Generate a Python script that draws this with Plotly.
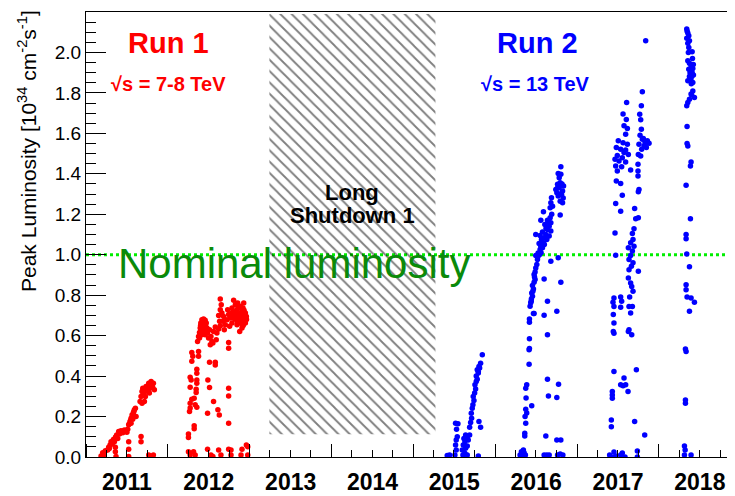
import datetime as dt
import plotly.graph_objects as go

FONT = "Liberation Sans, Arial, Helvetica, sans-serif"

# ---------------- data (decimal year, peak luminosity in 1e34 cm^-2 s^-1) ----------------
Y2011_T = [2011.184, 2011.204, 2011.224, 2011.237, 2011.265, 2011.277, 2011.294, 2011.306, 2011.318, 2011.335,
           2011.347, 2011.359, 2011.375, 2011.388, 2011.400, 2011.408, 2011.428, 2011.449, 2011.469, 2011.490,
           2011.510, 2011.522, 2011.539, 2011.551, 2011.563, 2011.579, 2011.592, 2011.604, 2011.551, 2011.571,
           2011.661, 2011.673, 2011.685, 2011.694, 2011.702, 2011.714, 2011.726, 2011.734, 2011.755, 2011.767,
           2011.783, 2011.796, 2011.808, 2011.824, 2011.836, 2011.685, 2011.714, 2011.775,
           2011.359, 2011.359, 2011.367, 2011.522, 2011.522, 2011.522, 2011.673, 2011.673, 2011.612, 2011.767,
           2011.796, 2011.824,
           2011.285, 2011.325, 2011.365, 2011.415, 2011.440, 2011.480, 2011.500, 2011.530, 2011.545, 2011.585,
           2011.700, 2011.745, 2011.790, 2011.815]
Y2011_L = [0.005, 0.021, 0.010, 0.031, 0.035, 0.048, 0.059, 0.076, 0.064, 0.087,
           0.076, 0.097, 0.109, 0.092, 0.126, 0.114, 0.130, 0.120, 0.134, 0.126,
           0.137, 0.159, 0.175, 0.192, 0.208, 0.219, 0.233, 0.241, 0.167, 0.187,
           0.274, 0.299, 0.324, 0.340, 0.316, 0.332, 0.299, 0.349, 0.324, 0.365,
           0.340, 0.373, 0.357, 0.365, 0.332, 0.266, 0.274, 0.316,
           0.048, 0.026, 0.002, 0.076, 0.038, 0.002, 0.101, 0.076, 0.200, 0.010,
           0.002, 0.010,
           0.042, 0.070, 0.100, 0.118, 0.125, 0.130, 0.122, 0.165, 0.180, 0.225,
           0.330, 0.340, 0.350, 0.345]

Y2012_T = [2012.252, 2012.273, 2012.314, 2012.334, 2012.252, 2012.252, 2012.322, 2012.322,
           2012.293, 2012.305, 2012.375, 2012.375, 2012.293, 2012.354, 2012.354, 2012.273, 2012.285, 2012.354,
           2012.354, 2012.273, 2012.346, 2012.346, 2012.293, 2012.322, 2012.273, 2012.334, 2012.273, 2012.354,
           2012.265,
           2012.363, 2012.375, 2012.387, 2012.395, 2012.403, 2012.416, 2012.436, 2012.456, 2012.428, 2012.448,
           2012.469, 2012.407, 2012.436, 2012.477, 2012.387, 2012.416, 2012.456,
           2012.485, 2012.509, 2012.497, 2012.526, 2012.538, 2012.558, 2012.550, 2012.579, 2012.591, 2012.599,
           2012.620, 2012.640, 2012.632, 2012.518,
           2012.640, 2012.652, 2012.640, 2012.660, 2012.681, 2012.620, 2012.673, 2012.701, 2012.689, 2012.722,
           2012.730, 2012.742,
           2012.803, 2012.824, 2012.783, 2012.844, 2012.885, 2012.926, 2012.905, 2012.946, 2012.864, 2012.803,
           2012.762, 2012.836, 2012.893, 2012.934, 2012.783, 2012.844, 2012.905, 2012.877, 2012.754, 2012.958,
           2012.917, 2012.795, 2012.852, 2012.824, 2012.946,
           2012.870, 2012.900, 2012.860, 2012.815, 2012.875, 2012.915, 2012.940, 2012.810, 2012.895, 2012.850,
           2012.930, 2012.770, 2012.880, 2012.960, 2012.920,
           2012.420, 2012.440, 2012.460, 2012.400, 2012.430, 2012.470,
           2012.509, 2012.579, 2012.579, 2012.489, 2012.509, 2012.558, 2012.485, 2012.611, 2012.628, 2012.742,
           2012.742, 2012.742, 2012.742, 2012.742,
           2012.485, 2012.526, 2012.550, 2012.620, 2012.648, 2012.742, 2012.771, 2012.771, 2012.893, 2012.905,
           2012.958, 2012.975, 2012.975]
Y2012_L = [0.026, 0.010, 0.026, 0.010, 0.114, 0.097, 0.154, 0.140,
           0.517, 0.498, 0.522, 0.498, 0.473, 0.434, 0.414, 0.394, 0.381, 0.381,
           0.365, 0.345, 0.335, 0.319, 0.286, 0.291, 0.266, 0.258, 0.242, 0.246,
           0.225,
           0.571, 0.596, 0.616, 0.638, 0.662, 0.679, 0.682, 0.676, 0.654, 0.646,
           0.662, 0.629, 0.621, 0.638, 0.588, 0.604, 0.604,
           0.613, 0.629, 0.588, 0.596, 0.571, 0.621, 0.563, 0.643, 0.580, 0.613,
           0.633, 0.649, 0.671, 0.555,
           0.781, 0.753, 0.728, 0.712, 0.695, 0.699, 0.671, 0.654, 0.629, 0.679,
           0.728, 0.704,
           0.775, 0.753, 0.737, 0.728, 0.745, 0.761, 0.720, 0.712, 0.704, 0.695,
           0.687, 0.679, 0.679, 0.671, 0.662, 0.654, 0.638, 0.621, 0.646, 0.695,
           0.737, 0.720, 0.761, 0.712, 0.662,
           0.690, 0.700, 0.735, 0.700, 0.665, 0.690, 0.700, 0.685, 0.660, 0.670,
           0.725, 0.710, 0.710, 0.680, 0.650,
           0.665, 0.660, 0.650, 0.650, 0.640, 0.625,
           0.469, 0.469, 0.455, 0.381, 0.343, 0.274, 0.216, 0.233, 0.208, 0.566,
           0.538, 0.340, 0.302, 0.167,
           0.038, 0.010, 0.002, 0.035, 0.010, 0.038, 0.035, 0.010, 0.010, 0.038,
           0.059, 0.051, 0.010]

Y2015_T = [2015.414, 2015.443, 2015.508, 2015.524, 2015.516, 2015.524, 2015.537, 2015.528, 2015.545, 2015.516,
           2015.606, 2015.630, 2015.659, 2015.598, 2015.639, 2015.610, 2015.659, 2015.630, 2015.671, 2015.618,
           2015.659, 2015.688, 2015.639,
           2015.688, 2015.700, 2015.712, 2015.708, 2015.720, 2015.728, 2015.741, 2015.732, 2015.749, 2015.761,
           2015.753, 2015.769, 2015.781, 2015.769, 2015.794, 2015.781, 2015.802, 2015.794, 2015.822, 2015.843,
           2015.810, 2015.802, 2015.822, 2015.794]
Y2015_L = [0.007, 0.010, 0.010, 0.035, 0.059, 0.084, 0.100, 0.137, 0.164, 0.167,
           0.010, 0.018, 0.010, 0.035, 0.043, 0.059, 0.054, 0.076, 0.084, 0.092,
           0.100, 0.109, 0.109,
           0.147, 0.170, 0.192, 0.216, 0.241, 0.258, 0.279, 0.299, 0.316, 0.336,
           0.357, 0.373, 0.385, 0.401, 0.415, 0.431, 0.448, 0.423, 0.464, 0.506,
           0.440, 0.175, 0.147, 0.005]

Y2016_T = [2016.304, 2016.320, 2016.336, 2016.353, 2016.369, 2016.312, 2016.344,
           2016.361, 2016.361, 2016.373, 2016.365, 2016.385, 2016.373, 2016.377, 2016.373, 2016.385, 2016.414,
           2016.414, 2016.418, 2016.418, 2016.446,
           2016.418, 2016.418, 2016.467, 2016.426, 2016.434, 2016.442, 2016.455, 2016.446, 2016.467, 2016.455,
           2016.475, 2016.487,
           2016.475, 2016.487, 2016.495, 2016.508, 2016.516, 2016.495, 2016.524, 2016.548, 2016.557, 2016.577,
           2016.536, 2016.589, 2016.565, 2016.597, 2016.548, 2016.577, 2016.618, 2016.638, 2016.659, 2016.606,
           2016.679, 2016.557, 2016.638, 2016.671, 2016.630, 2016.659, 2016.679, 2016.495, 2016.589,
           2016.671, 2016.679, 2016.687, 2016.740, 2016.752, 2016.781, 2016.761, 2016.793, 2016.810, 2016.822,
           2016.769, 2016.793, 2016.822, 2016.781, 2016.801, 2016.769, 2016.801, 2016.834, 2016.793,
           2016.597, 2016.597, 2016.638, 2016.638, 2016.638, 2016.650, 2016.618, 2016.752, 2016.801, 2016.679,
           2016.769, 2016.773, 2016.752, 2016.752, 2016.801, 2016.597, 2016.630, 2016.659, 2016.761, 2016.793,
           2016.826, 2016.475,
           2016.520, 2016.540, 2016.560, 2016.600, 2016.620, 2016.650, 2016.690, 2016.700, 2016.760, 2016.790,
           2016.815, 2016.830, 2016.440, 2016.460, 2016.480]
Y2016_L = [0.010, 0.026, 0.005, 0.021, 0.010, 0.002, 0.035,
           0.104, 0.117, 0.167, 0.200, 0.217, 0.236, 0.292, 0.340, 0.357, 0.459,
           0.530, 0.537, 0.585, 0.253,
           0.666, 0.682, 0.709, 0.745, 0.762, 0.781, 0.795, 0.811, 0.831, 0.848,
           0.864, 0.877,
           0.902, 0.914, 0.935, 0.952, 0.976, 0.996, 1.009, 1.026, 1.042, 1.034,
           1.055, 1.059, 1.075, 1.084, 1.095, 1.112, 1.100, 1.125, 1.141, 1.149,
           1.158, 1.171, 1.171, 1.183, 1.075, 1.092, 1.117, 1.100, 1.212,
           1.232, 1.257, 1.282, 1.323, 1.307, 1.331, 1.348, 1.356, 1.298, 1.315,
           1.290, 1.265, 1.257, 1.381, 1.398, 1.402, 1.435, 1.340, 1.196,
           0.880, 0.701, 0.770, 0.605, 0.385, 0.302, 0.104, 0.720, 0.864, 0.968,
           0.985, 0.360, 0.294, 0.084, 0.084, 0.010, 0.010, 0.010, 0.010, 0.015,
           0.010, 0.709,
           0.990, 1.000, 1.010, 1.050, 1.130, 1.160, 1.200, 1.240, 1.330, 1.300,
           1.350, 1.280, 0.770, 0.820, 0.890]

Y2017_T = [2017.397, 2017.422, 2017.450, 2017.471, 2017.532, 2017.552, 2017.585, 2017.736, 2017.736,
           2017.418, 2017.418, 2017.430, 2017.430, 2017.430, 2017.450,
           2017.532, 2017.561, 2017.593, 2017.573, 2017.622, 2017.724, 2017.703, 2017.826,
           2017.450, 2017.438, 2017.532, 2017.544, 2017.450, 2017.532, 2017.442, 2017.450, 2017.442, 2017.450,
           2017.634, 2017.667, 2017.626, 2017.654, 2017.675, 2017.642, 2017.683, 2017.626, 2017.654, 2017.634,
           2017.663, 2017.683, 2017.634, 2017.654, 2017.675, 2017.626, 2017.695, 2017.654, 2017.683, 2017.675,
           2017.695, 2017.716, 2017.748, 2017.703, 2017.748, 2017.634, 2017.667,
           2017.463, 2017.471,
           2017.605, 2017.561, 2017.601, 2017.573, 2017.614, 2017.593, 2017.503, 2017.561, 2017.614, 2017.479,
           2017.532, 2017.593, 2017.626, 2017.491, 2017.552, 2017.463, 2017.512, 2017.593, 2017.471, 2017.544,
           2017.654, 2017.491, 2017.479, 2017.532, 2017.552, 2017.471, 2017.532, 2017.573,
           2017.838, 2017.797, 2017.785, 2017.765, 2017.777, 2017.785, 2017.769, 2017.797, 2017.830, 2017.858,
           2017.818, 2017.756, 2017.789, 2017.846, 2017.748, 2017.777, 2017.744, 2017.744, 2017.744, 2017.756,
           2017.748, 2017.809, 2017.879]
Y2017_L = [0.010, 0.000, 0.025, 0.005, 0.010, 0.020, 0.000, 0.030, 0.000,
           0.183, 0.149, 0.324, 0.307, 0.291, 0.423,
           0.357, 0.352, 0.357, 0.390, 0.324, 0.431, 0.175, 0.109,
           0.786, 0.765, 0.791, 0.770, 0.744, 0.740, 0.704, 0.662, 0.621, 0.612,
           0.629, 0.604, 0.621, 0.712, 0.744, 0.791, 0.819, 0.885, 0.860, 0.926,
           0.943, 0.960, 0.976, 0.996, 1.018, 1.034, 1.042, 1.059, 1.075, 1.105,
           1.128, 1.178, 1.183, 1.229, 0.918, 0.744, 0.843,
           1.107, 0.997,
           1.753, 1.696, 1.668, 1.638, 1.624, 1.596, 1.563, 1.554, 1.546, 1.530,
           1.521, 1.518, 1.496, 1.491, 1.480, 1.472, 1.463, 1.458, 1.439, 1.435,
           1.419, 1.414, 1.364, 1.352, 1.294, 1.253, 1.215, 1.505,
           2.058, 1.806, 1.736, 1.695, 1.667, 1.620, 1.591, 1.571, 1.554, 1.563,
           1.538, 1.546, 1.521, 1.530, 1.496, 1.488, 1.447, 1.414, 1.389, 1.323,
           1.311, 1.574, 1.551]

Y2018_T = [2018.340, 2018.353, 2018.365, 2018.340, 2018.373, 2018.353, 2018.365, 2018.406,
           2018.353, 2018.373, 2018.393, 2018.414, 2018.365, 2018.406, 2018.422, 2018.373, 2018.353, 2018.393,
           2018.414,
           2018.414, 2018.393, 2018.434, 2018.373, 2018.353, 2018.340,
           2018.344, 2018.344, 2018.353, 2018.393, 2018.385, 2018.332, 2018.385, 2018.332, 2018.332, 2018.340,
           2018.373, 2018.332, 2018.332, 2018.344, 2018.393, 2018.434, 2018.373, 2018.324, 2018.332, 2018.324,
           2018.324, 2018.312, 2018.320, 2018.312, 2018.393,
           2018.345, 2018.360, 2018.380, 2018.400, 2018.420, 2018.400, 2018.410, 2018.395]
Y2018_L = [2.116, 2.096, 2.083, 2.070, 2.058, 2.046, 2.025, 2.004,
           1.959, 1.947, 1.934, 1.921, 1.917, 1.901, 1.888, 1.881, 1.860, 1.860,
           1.852,
           1.810, 1.794, 1.777, 1.769, 1.752, 1.736,
           1.634, 1.550, 1.538, 1.459, 1.439, 1.343, 1.178, 1.100, 1.079, 1.004,
           0.940, 0.852, 0.827, 0.791, 0.786, 0.765, 0.720, 0.534, 0.522, 0.282,
           0.266, 0.054, 0.034, 0.010, 0.010,
           2.105, 2.000, 1.900, 1.880, 1.940, 1.790, 1.970, 1.845]

RUN1_T = Y2011_T + Y2012_T
RUN1_L = Y2011_L + Y2012_L
RUN2_T = Y2015_T + Y2016_T + Y2017_T + Y2018_T
RUN2_L = Y2015_L + Y2016_L + Y2017_L + Y2018_L

NOMINAL = 1.0
LS1_START, LS1_END = 2013.24, 2015.27
LS1_LOW, LS1_HIGH = 0.112, 2.19
X_MIN, X_MAX = 2011.0, 2018.93
Y_MIN, Y_MAX = 0.0, 2.2


def yr2dt(v):
    y = int(v)
    a = dt.datetime(y, 1, 1)
    b = dt.datetime(y + 1, 1, 1)
    return a + (b - a) * (v - y)


fig = go.Figure()

# Long Shutdown 1 hatched band
fig.add_trace(go.Scatter(
    x=[yr2dt(LS1_START), yr2dt(LS1_END), yr2dt(LS1_END), yr2dt(LS1_START), yr2dt(LS1_START)],
    y=[LS1_LOW, LS1_LOW, LS1_HIGH, LS1_HIGH, LS1_LOW],
    mode="lines", line=dict(width=0, color="rgba(0,0,0,0)"),
    fill="toself", fillcolor="rgba(255,255,255,0)",
    fillpattern=dict(shape="\\", size=8, solidity=0.23, fgcolor="#000000", bgcolor="rgba(255,255,255,0)"),
    hoverinfo="skip", showlegend=False))

fig.add_trace(go.Scatter(
    x=[yr2dt(v) for v in RUN1_T], y=RUN1_L, mode="markers",
    marker=dict(color="#ff0000", size=5.5, line=dict(width=0)), showlegend=False))
fig.add_trace(go.Scatter(
    x=[yr2dt(v) for v in RUN2_T], y=RUN2_L, mode="markers",
    marker=dict(color="#0000ff", size=5.5, line=dict(width=0)), showlegend=False))

fig.add_shape(type="line", xref="paper", x0=0, x1=1, yref="y", y0=NOMINAL, y1=NOMINAL,
              line=dict(color="#00ee00", width=3, dash="3px,3px"), layer="below")


def ann(text, xv, yv, size, color, bold=True):
    fig.add_annotation(x=yr2dt(xv), y=yv, xref="x", yref="y", text=text, showarrow=False,
                       xanchor="center", yanchor="middle",
                       font=dict(family=FONT, size=size, color=color, weight="bold" if bold else "normal"))


ann("Run 1", 2012.004, 2.045, 29, "#ff0000")
ann("√s = 7-8 TeV", 2012.01, 1.842, 20, "#ff0000")
ann("Run 2", 2016.514, 2.045, 29, "#0000ff")
ann("√s = 13 TeV", 2016.496, 1.842, 20, "#0000ff")
ann("Long", 2014.244, 1.31, 22, "#000000")
ann("Shutdown 1", 2014.25, 1.195, 22, "#000000")
ann("Nominal luminosity", 2013.546, 0.955, 42, "#0a8a0a", bold=False)

# page body has an 8 px margin: figure is placed at (8, 8) in the 735x496 window
fig.add_annotation(xref="paper", yref="paper", x=(27 - 86) / 649, y=1, yshift=4,
                   xanchor="center", yanchor="top", textangle=-90, showarrow=False,
                   text="Peak Luminosity [10<sup>34</sup> cm<sup>-2</sup>s<sup>-1</sup>]",
                   font=dict(family=FONT, size=21, color="#000000"))

fig.update_layout(
    width=727, height=488,
    margin=dict(l=78, r=0, t=4, b=39),
    paper_bgcolor="white", plot_bgcolor="white",
    font=dict(family=FONT, color="#000000"),
    showlegend=False,
    xaxis=dict(
        type="date", range=[yr2dt(X_MIN), yr2dt(X_MAX)],
        tick0="2011-01-01", dtick="M12", tickformat="%Y", ticklabelmode="period",
        ticks="inside", ticklen=13, tickwidth=1, tickcolor="#000000",
        showline=True, linecolor="#000000", linewidth=1, mirror=True,
        showgrid=False, zeroline=False, ticklabelstandoff=4,
        tickfont=dict(family=FONT, size=23, color="#000000", weight="bold"),
        minor=dict(dtick="M3", ticks="inside", ticklen=7, tickwidth=1, tickcolor="#000000", showgrid=False),
    ),
    yaxis=dict(
        range=[Y_MIN, Y_MAX], tick0=0, dtick=0.2, tickformat=".1f",
        ticks="inside", ticklen=20, tickwidth=1, tickcolor="#000000",
        showline=True, linecolor="#000000", linewidth=1,
        showgrid=False, zeroline=False,
        tickfont=dict(family=FONT, size=19, color="#000000"),
        minor=dict(dtick=0.05, ticks="inside", ticklen=10, tickwidth=1, tickcolor="#000000", showgrid=False),
    ),
)

fig.write_html("out.html")
